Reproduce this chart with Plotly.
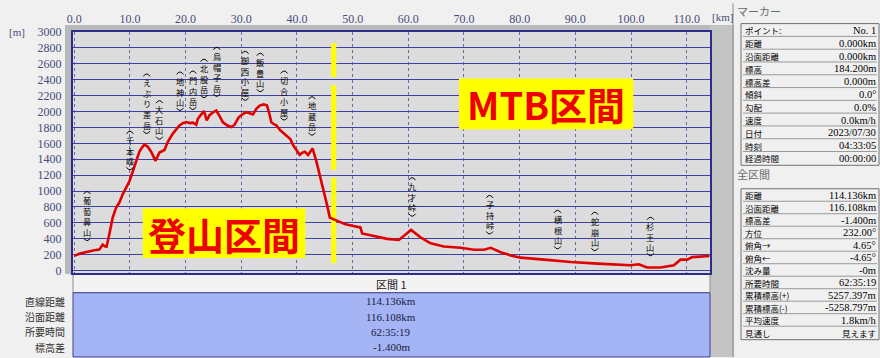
import plotly.graph_objects as go

# ---------------- data ----------------
dist_km = [0.0, 0.9, 2.0, 2.7, 3.6, 4.5, 5.1, 5.5, 5.8, 6.3, 6.9, 7.5, 8.1, 8.7, 9.3, 9.9,
           10.5, 11.1, 11.7, 12.2, 12.6, 13.2, 13.8, 14.6, 15.3, 16.2, 16.8, 17.7, 18.9,
           19.5, 20.1, 20.8, 21.3, 21.9, 22.2, 22.8, 23.3, 23.8, 24.3, 25.0, 25.5, 26.0,
           26.7, 27.5, 28.2, 28.8, 29.5, 30.2, 30.9, 31.5, 32.1, 32.7, 33.3, 34.0, 34.6,
           35.0, 35.4, 36.0, 36.3, 37.0, 37.5, 38.1, 38.8, 39.3, 40.0, 40.5, 41.0, 41.4,
           42.0, 42.4, 42.8, 43.5, 44.1, 44.7, 45.3, 45.9, 47.1, 47.8, 48.6, 49.9, 51.4,
           51.7, 53.8, 56.2, 58.3, 60.5, 62.2, 64.0, 66.4, 69.4, 71.8, 73.6, 74.8, 76.6,
           78.4, 80.2, 84.4, 89.2, 94.0, 99.9, 101.4, 102.9, 105.3, 107.7, 108.9, 110.1,
           111.0, 114.1]
elev_m = [184, 210, 230, 245, 255, 263, 325, 305, 300, 460, 665, 790, 855, 958, 1040, 1122,
          1246, 1370, 1495, 1550, 1584, 1557, 1495, 1380, 1485, 1516, 1619, 1722, 1826,
          1854, 1867, 1854, 1859, 1834, 1908, 1964, 2004, 1888, 1954, 1994, 2013, 1954,
          1864, 1824, 1805, 1834, 1924, 1964, 1992, 1979, 1964, 2034, 2075, 2089, 2079,
          1984, 1864, 1834, 1826, 1764, 1734, 1702, 1654, 1578, 1504, 1454, 1484, 1495,
          1454, 1504, 1536, 1370, 1204, 1040, 854, 666, 625, 604, 584, 563, 542,
          467, 439, 398, 385, 510, 418, 343, 302, 286, 261, 261, 286, 231,
          190, 162, 137, 107, 87, 66, 79, 38, 38, 66, 137, 137,
          169, 183]

x_tick_vals = [0, 10, 20, 30, 40, 50, 60, 70, 80, 90, 100, 110]
x_tick_text = ["0.0", "10.0", "20.0", "30.0", "40.0", "50.0", "60.0", "70.0", "80.0",
               "90.0", "100.0", "110.0"]
y_tick_vals = [0, 200, 400, 600, 800, 1000, 1200, 1400, 1600, 1800, 2000, 2200, 2400,
               2600, 2800, 3000]
y_tick_text = [str(v) for v in y_tick_vals]

peak_names = ["葡萄鼻山", "千本峰", "えぶり差岳", "大石山", "地神山", "門内岳", "北股岳",
              "烏帽子岳", "御西小屋", "飯豊山", "切合小屋", "地蔵岳", "九才峠", "子持峠",
              "横根山", "蛇崩山", "杉王山"]
peak_km = [2.3, 10.0, 13.0, 15.3, 19.0, 21.3, 23.3, 25.6, 30.7, 33.4, 37.7, 42.7, 60.7,
           74.6, 86.8, 93.5, 103.5]
peak_label_top_m = [1012, 1770, 2491, 2155, 2516, 2528, 2677, 2826, 2776, 2752, 2528, 2205,
                    1186, 963, 776, 752, 689]

mtb_start_km = 46.6
section_titles = ["登山区間", "MTB区間"]
section_x = [[12.3, 41.5], [69.1, 100.4]]
section_y = [[157, 784], [1776, 2416]]

interval_title = "区間 1"
interval_labels = ["直線距離", "沿面距離", "所要時間", "標高差"]
interval_values = ["114.136km", "116.108km", "62:35:19", "-1.400m"]

marker_labels = ["ポイント:", "距離", "沿面距離", "標高", "標高差", "傾斜", "勾配", "速度",
                 "日付", "時刻", "経過時間"]
marker_values = ["No. 1", "0.000km", "0.000km", "184.200m", "0.000m", "0.0°", "0.0%",
                 "0.0km/h", "2023/07/30", "04:33:05", "00:00:00"]
total_labels = ["距離", "沿面距離", "標高差", "方位", "俯角→", "俯角←", "沈み量", "所要時間",
                "累積標高(+)", "累積標高(-)", "平均速度", "見通し"]
total_values = ["114.136km", "116.108km", "-1.400m", "232.00°", "4.65°", "-4.65°", "-0m",
                "62:35:19", "5257.397m", "-5258.797m", "1.8km/h", "見えます"]

# ---------------- layout helpers ----------------
W, H = 880, 358
L, R, T, B = 73, 170, 29, 85
PW, PH = W - L - R, H - T - B
XR = [-0.23, 114.19]
YR = [-31, 3000]
KM_PER_PX = (XR[1] - XR[0]) / PW
M_PER_PX = (YR[1] - YR[0]) / PH


def fx(px):
    return (px - L) / PW


def fy(py):
    return 1 - (py - T) / PH


JP = "Noto Sans CJK JP"
SERIF = "Liberation Serif"
TICKC = "#4a4a7c"

fig = go.Figure()
fig.add_trace(go.Scatter(x=dist_km, y=elev_m, mode="lines",
                         line=dict(color="#e00000", width=2.6), hoverinfo="skip"))

shapes = []
annos = []


def prect(x0, y0, x1, y1, fill, line=None, lw=1, layer="below"):
    shapes.append(dict(type="rect", xref="paper", yref="paper", x0=fx(x0), x1=fx(x1),
                       y0=fy(y1), y1=fy(y0), fillcolor=fill, layer=layer,
                       line=dict(color=line or fill, width=lw if line else 0)))


def pline(x0, y0, x1, y1, color, lw=1, layer="below"):
    shapes.append(dict(type="line", xref="paper", yref="paper", x0=fx(x0), x1=fx(x1),
                       y0=fy(y0), y1=fy(y1), layer=layer, line=dict(color=color, width=lw)))


def ptext(px, py, text, size=10, font=JP, color="#000000", xanchor="left"):
    annos.append(dict(xref="paper", yref="paper", x=fx(px), y=fy(py), text=text,
                      showarrow=False, xanchor=xanchor, yanchor="middle", borderpad=0,
                      font=dict(family=font, size=size, color=color)))


# frame around plot
prect(65, 22, 734, 274, "#b9b9b9")
prect(710, 22, 734, 358, "#c4c4c4")
pline(733, 0, 733, 358, "#8a8a8a", 1)
# plot area bg
prect(73, 29, 710, 273, "#dcdcdc")

# bottom interval table
prect(73, 274, 710, 293, "#f3f3f3", "#8c8c8c", 1)
prect(73, 293, 710, 358, "#a4b4f4", "#40408a", 1)
ptext(391, 284, interval_title, size=11, font=JP, color="#202020", xanchor="center")
for i, (lab, val) in enumerate(zip(interval_labels, interval_values)):
    yy = 301.5 + 15.6 * i
    ptext(391, yy, val, size=11, font=SERIF, color="#1a1a40", xanchor="center")
    ptext(66, yy, lab, size=10, font=JP, color="#303030", xanchor="right")

# right panel
ptext(736, 8, "マーカー", size=11, color="#6a6a6a")
ptext(736, 173, "全区間", size=11, color="#6a6a6a")


def panel_table(top, step, labels, values):
    n = len(labels)
    prect(741, top, 879, top + step * n + 1, "#f0f0f0", "#707070", 1)
    for i, (lab, val) in enumerate(zip(labels, values)):
        yc = top + step * i + step / 2 + 0.5
        ptext(744, yc, lab, size=8.5, color="#000000")
        vf = JP if any(ord(c) > 0x3000 for c in val) else SERIF
        vs = 8.5 if vf == JP else 10.5
        ptext(877, yc, val, size=vs, font=vf, color="#000000", xanchor="right")
        if i < n - 1:
            pline(743, top + step * (i + 1), 877, top + step * (i + 1), "#9a9a9a", 1)


panel_table(20.5, 12.95, marker_labels, marker_values)
panel_table(187.7, 12.65, total_labels, total_values)

# axis unit labels
ptext(8, 29, "[m]", size=11, font=SERIF, color=TICKC)
ptext(711, 14, "[km]", size=11, font=SERIF, color=TICKC)

# yellow divider between sections
shapes.append(dict(type="line", xref="x", yref="y", x0=mtb_start_km, x1=mtb_start_km,
                   y0=95, y1=2860, layer="between",
                   line=dict(color="#ffff00", width=5, dash="85px,8px")))

# section labels
for title, xs, ys in zip(section_titles, section_x, section_y):
    shapes.append(dict(type="rect", xref="x", yref="y", x0=xs[0], x1=xs[1], y0=ys[0],
                       y1=ys[1], fillcolor="#ffff00", line=dict(width=0), layer="above"))
    annos.append(dict(xref="x", yref="y", x=(xs[0] + xs[1]) / 2, y=(ys[0] + ys[1]) / 2,
                      text="<b>" + title + "</b>", showarrow=False, xanchor="center",
                      yanchor="middle", font=dict(family=JP, size=38, color="#ee0000")))

# vertical peak labels: stacked characters + bracket arcs
FS = 8.2
STEP = FS * 1.3
PAREN = 5.0
HW = 3.4 * KM_PER_PX
for name, km, top in zip(peak_names, peak_km, peak_label_top_m):
    n = len(name)
    block = n * STEP
    center_px = PAREN + block / 2
    annos.append(dict(xref="x", yref="y", x=km, y=top - center_px * M_PER_PX,
                      text="<br>".join(list(name)), showarrow=False, xanchor="center",
                      yanchor="middle", align="center", borderpad=0,
                      font=dict(family=JP, size=FS, color="#000000")))
    ya = top - 4.0 * M_PER_PX
    yc = ya + 5.0 * M_PER_PX
    shapes.append(dict(type="path", xref="x", yref="y", layer="above",
                       path=f"M {km - HW},{ya} Q {km},{yc} {km + HW},{ya}",
                       line=dict(color="#000000", width=1)))
    yb = top - (PAREN + block + 1.0) * M_PER_PX
    yd = yb - 5.0 * M_PER_PX
    shapes.append(dict(type="path", xref="x", yref="y", layer="above",
                       path=f"M {km - HW},{yb} Q {km},{yd} {km + HW},{yb}",
                       line=dict(color="#000000", width=1)))

fig.update_layout(
    width=W, height=H, margin=dict(l=L, r=R, t=T, b=B, pad=0),
    paper_bgcolor="#f0f0f0", plot_bgcolor="rgba(0,0,0,0)",
    showlegend=False, shapes=shapes, annotations=annos,
    xaxis=dict(range=XR, side="top", tickvals=x_tick_vals,
               ticktext=x_tick_text, showgrid=True, gridcolor="#6a6aaa", griddash="dot",
               gridwidth=1, zeroline=False, showline=True, mirror=True,
               linecolor="#2c2c8c", linewidth=2, ticks="", ticklabelstandoff=2,
               tickfont=dict(family=SERIF, size=12, color=TICKC), fixedrange=True),
    yaxis=dict(range=YR, tickvals=y_tick_vals, ticktext=y_tick_text,
               showgrid=True, gridcolor="#3f3fa6", gridwidth=1, zeroline=False,
               showline=True, mirror=True, linecolor="#2c2c8c", linewidth=2, ticks="",
               ticklabelstandoff=7, tickfont=dict(family=SERIF, size=12, color=TICKC),
               fixedrange=True),
)

fig.write_html("out.html")
